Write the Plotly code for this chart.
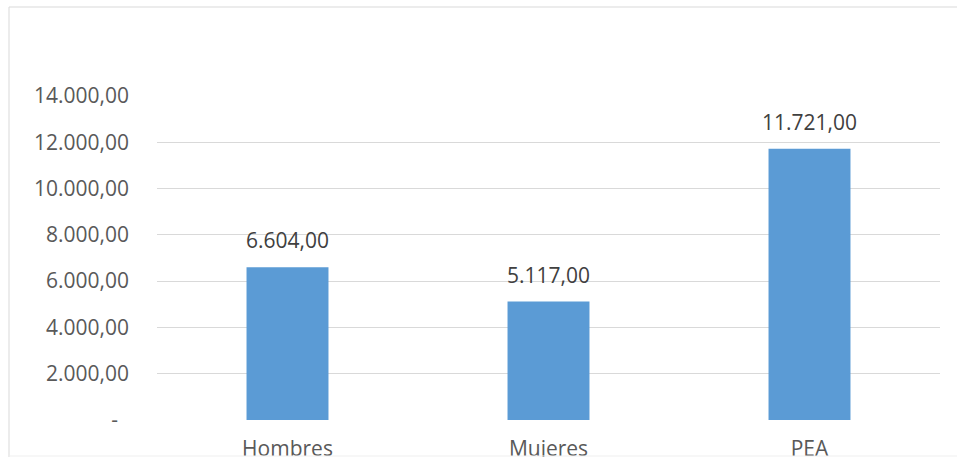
import plotly.graph_objects as go

categories = ["Hombres", "Mujeres", "PEA"]
values = [6604, 5117, 11721]
value_labels = ["6.604,00", "5.117,00", "11.721,00"]
y_tickvals = [0, 2000, 4000, 6000, 8000, 10000, 12000, 14000]
y_ticktext = ["-\u00a0\u00a0", "2.000,00", "4.000,00", "6.000,00", "8.000,00",
              "10.000,00", "12.000,00", "14.000,00"]

W, H = 957, 457
L, R, T, B = 157, 17, 96, 37
pw, ph = W - L - R, H - T - B

def px(x):
    return (x - L) / pw

def py(y):
    return (H - B - y) / ph

FONT = "Open Sans"

fig = go.Figure()
fig.add_trace(go.Bar(x=categories, y=values, marker=dict(color="#5B9BD5", line=dict(width=0)),
                     width=0.314, hoverinfo="skip"))

for c, v, t in zip(categories, values, value_labels):
    fig.add_annotation(x=c, y=v, text=t, showarrow=False, yanchor="bottom", yshift=11,
                       font=dict(family=FONT, size=21, color="#404040"))

line = dict(color="#D9D9D9", width=1)
fig.add_shape(type="line", xref="paper", yref="paper", x0=px(9), x1=px(9), y0=py(7), y1=py(460), line=line)
fig.add_shape(type="line", xref="paper", yref="paper", x0=px(9), x1=px(970), y0=py(7), y1=py(7), line=line)
fig.add_shape(type="line", xref="paper", yref="paper", x0=px(9), x1=px(970), y0=py(456), y1=py(456),
              line=dict(color="#EFEFEF", width=1))

fig.update_layout(
    width=W, height=H,
    margin=dict(l=L, r=R, t=T, b=B, pad=0, autoexpand=False),
    paper_bgcolor="white", plot_bgcolor="white",
    showlegend=False,
    font=dict(family=FONT, size=21, color="#595959"),
    xaxis=dict(showgrid=False, zeroline=False, showline=False, ticks="", automargin=False,
               ticklabelstandoff=14, tickfont=dict(family=FONT, size=21, color="#595959")),
    yaxis=dict(range=[0, 14000], tickvals=y_tickvals, ticktext=y_ticktext, automargin=False,
               showgrid=True, gridcolor="#D9D9D9", gridwidth=1, zeroline=False, showline=False,
               ticks="", ticklabelstandoff=27, tickfont=dict(family=FONT, size=21, color="#595959")),
)

fig.write_html("out.html", config={"displayModeBar": False, "staticPlot": True},
               post_script="document.body.style.margin='0';document.body.style.overflow='hidden';")
